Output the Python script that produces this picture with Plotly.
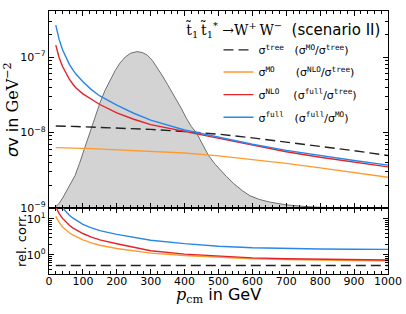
import plotly.graph_objects as go

# ---------------- data ----------------
p_cm = [20, 25, 30, 40, 50, 60, 70, 80, 100, 125, 150, 200, 250, 300, 400, 500, 600, 700, 800, 900, 1000]

sigma_tree = [1.22e-8, 1.22e-8, 1.22e-8, 1.215e-8, 1.21e-8, 1.21e-8, 1.205e-8, 1.20e-8, 1.19e-8, 1.18e-8, 1.165e-8,
              1.14e-8, 1.12e-8, 1.10e-8, 1.03e-8, 9.5e-9, 8.5e-9, 7.5e-9, 6.6e-9, 5.75e-9, 4.95e-9]
sigma_MO = [6.3e-9, 6.3e-9, 6.28e-9, 6.27e-9, 6.25e-9, 6.24e-9, 6.22e-9, 6.2e-9, 6.17e-9, 6.12e-9, 6.05e-9,
            5.95e-9, 5.85e-9, 5.72e-9, 5.35e-9, 4.9e-9, 4.4e-9, 3.9e-9, 3.4e-9, 2.95e-9, 2.55e-9]
sigma_NLO = [1.44e-7, 1.17e-7, 9.8e-8, 7.5e-8, 6.1e-8, 5.1e-8, 4.4e-8, 3.9e-8, 3.25e-8, 2.75e-8, 2.35e-8,
             1.82e-8, 1.5e-8, 1.27e-8, 1.03e-8, 8.4e-9, 6.7e-9, 5.55e-9, 4.7e-9, 4.05e-9, 3.5e-9]
sigma_full = [2.65e-7, 2.07e-7, 1.7e-7, 1.25e-7, 9.8e-8, 8.0e-8, 6.8e-8, 5.9e-8, 4.7e-8, 3.7e-8, 3.05e-8,
              2.3e-8, 1.8e-8, 1.46e-8, 1.08e-8, 8.6e-9, 7.0e-9, 5.8e-9, 4.95e-9, 4.25e-9, 3.7e-9]

ratio_MO_tree = [0.51, 0.51, 0.51, 0.51, 0.51, 0.51, 0.51, 0.51, 0.51, 0.51, 0.51,
                 0.51, 0.51, 0.51, 0.51, 0.51, 0.51, 0.51, 0.51, 0.51, 0.51]
ratio_NLO_tree = [11.6, 9.3, 7.9, 5.9, 4.8, 4.1, 3.55, 3.15, 2.6, 2.15, 1.85,
                  1.5, 1.27, 1.12, 0.96, 0.86, 0.78, 0.74, 0.71, 0.70, 0.69]
ratio_full_tree = [21.5, 16.8, 13.9, 10.2, 8.1, 6.6, 5.6, 4.9, 3.9, 3.1, 2.6,
                   2.03, 1.6, 1.3, 1.05, 0.92, 0.83, 0.78, 0.75, 0.73, 0.72]
ratio_full_MO = [42, 33, 27, 20, 15.5, 12.5, 10.5, 9.0, 7.0, 5.6, 4.7,
                 3.7, 3.0, 2.55, 2.05, 1.73, 1.58, 1.5, 1.46, 1.43, 1.42]

p_dist = [15, 20, 30, 42, 55, 65, 77, 90, 104, 115, 126, 138, 150, 165, 180, 195, 209, 225, 240, 259,
          275, 290, 305, 320, 335, 350, 365, 377, 390, 405, 420, 436, 452, 470, 490, 510, 524, 545,
          570, 593, 620, 650, 700, 750, 800, 900, 1000]
dist = [1.0e-9, 1.04e-9, 1.15e-9, 1.4e-9, 1.8e-9, 2.15e-9, 2.7e-9, 3.9e-9, 6.0e-9, 8.6e-9, 1.2e-8, 1.7e-8,
        2.45e-8, 3.6e-8, 5.0e-8, 6.6e-8, 8.3e-8, 1.0e-7, 1.12e-7, 1.18e-7,
        1.15e-7, 1.06e-7, 9.0e-8, 7.2e-8, 5.6e-8, 4.3e-8, 3.3e-8, 2.69e-8, 2.1e-8, 1.55e-8, 1.2e-8,
        9.7e-9, 7.0e-9, 5.0e-9, 3.8e-9, 3.0e-9, 2.6e-9, 2.1e-9,
        1.7e-9, 1.45e-9, 1.3e-9, 1.2e-9, 1.1e-9, 1.05e-9, 1.02e-9, 1.005e-9, 1.0e-9]

x_ticks = [0, 100, 200, 300, 400, 500, 600, 700, 800, 900, 1000]
y_top_ticks = [1e-9, 1e-8, 1e-7]
y_top_labels = ["10<sup>−9</sup>", "10<sup>−8</sup>", "10<sup>−7</sup>"]
y_bot_ticks = [1, 10]
y_bot_labels = ["10<sup>0</sup>", "10<sup>1</sup>"]

ORANGE = "#ff9a2e"
RED = "#e3232b"
BLUE = "#2a86e8"
BLACK = "#222222"

MONO = "DejaVu Sans Mono"


def tt(s):
    return f'<sup><span style="font-family:{MONO}">{s}</span></sup>'


nb = "\u00a0"
names = [
    f"σ{tt('tree')}{nb*3}(σ{tt('MO')}/σ{tt('tree')})",
    f"σ{tt('MO')}{nb*6}(σ{tt('NLO')}/σ{tt('tree')})",
    f"σ{tt('NLO')}{nb*4}(σ{tt('full')}/σ{tt('tree')})",
    f"σ{tt('full')}{nb*3}(σ{tt('full')}/σ{tt('MO')})",
]
legend_ids = ["legend", "legend2", "legend3", "legend4"]
legend_y = [0.852, 0.768, 0.682, 0.596]

fig = go.Figure()

fig.add_trace(go.Scatter(x=p_dist, y=dist, mode="lines", fill="tozeroy", fillcolor="#d3d3d3",
                         line=dict(color="#6e6e6e", width=1), showlegend=False, xaxis="x", yaxis="y"))

top_series = [(sigma_tree, BLACK, "10px,5px"), (sigma_MO, ORANGE, "solid"),
              (sigma_NLO, RED, "solid"), (sigma_full, BLUE, "solid")]
for (ys, col, dash), nm, lg in zip(top_series, names, legend_ids):
    fig.add_trace(go.Scatter(x=p_cm, y=ys, mode="lines", name=nm, legend=lg, showlegend=True,
                             line=dict(color=col, width=1.4, dash=dash), xaxis="x", yaxis="y"))

bot_series = [(ratio_MO_tree, BLACK, "10px,5px"), (ratio_NLO_tree, ORANGE, "solid"),
              (ratio_full_tree, RED, "solid"), (ratio_full_MO, BLUE, "solid")]
for ys, col, dash in bot_series:
    fig.add_trace(go.Scatter(x=p_cm, y=ys, mode="lines", showlegend=False,
                             line=dict(color=col, width=1.4, dash=dash), xaxis="x2", yaxis="y2"))

axis_common = dict(showline=True, linecolor="black", linewidth=1.2, mirror="allticks",
                   ticks="inside", ticklen=5, tickwidth=1, tickcolor="black",
                   showgrid=False, zeroline=False, automargin=False,
                   tickfont=dict(family="DejaVu Sans", size=11, color="black"))

minor_top = [m * d for d in (1e-9, 1e-8, 1e-7) for m in (2, 3, 4, 5, 6, 7, 8, 9)]
minor_bot = [m * d for d in (0.1, 1, 10) for m in (2, 3, 4, 5, 6, 7, 8, 9)]

legend_common = dict(x=0.5, xanchor="left", yanchor="middle", bgcolor="rgba(0,0,0,0)",
                     font=dict(family="DejaVu Sans", size=11, color="black"), itemwidth=30)

fig.update_layout(
    width=406, height=314,
    margin=dict(l=49, r=18, t=11, b=40),
    paper_bgcolor="white", plot_bgcolor="white",
    xaxis=dict(domain=[0, 1], anchor="y", range=[0, 1000], tickmode="array", tickvals=x_ticks,
               showticklabels=False, minor=dict(dtick=20, ticklen=3, ticks="inside", tickcolor="black"),
               **axis_common),
    yaxis=dict(domain=[0.251, 1], anchor="x", type="log", range=[-9, -6.39], tickmode="array",
               tickvals=y_top_ticks, ticktext=y_top_labels,
               minor=dict(tickmode="array", tickvals=minor_top, ticklen=3, ticks="inside", tickcolor="black"),
               **axis_common),
    xaxis2=dict(domain=[0, 1], anchor="y2", range=[0, 1000], tickmode="array", tickvals=x_ticks,
                minor=dict(dtick=20, ticklen=3, ticks="inside", tickcolor="black"),
                ticklabelstandoff=-3,
                **axis_common),
    yaxis2=dict(domain=[0, 0.251], anchor="x2", type="log", range=[-0.528, 1.297], tickmode="array",
                tickvals=y_bot_ticks, ticktext=y_bot_labels,
                minor=dict(tickmode="array", tickvals=minor_bot, ticklen=3, ticks="inside", tickcolor="black"),
                **axis_common),
    legend=dict(y=legend_y[0], **legend_common),
    legend2=dict(y=legend_y[1], **legend_common),
    legend3=dict(y=legend_y[2], **legend_common),
    legend4=dict(y=legend_y[3], **legend_common),
    font=dict(family="DejaVu Sans", color="black"),
)

fig.add_annotation(xref="paper", yref="paper", x=0.982, y=0.928, xanchor="right", yanchor="middle",
                   showarrow=False,
                   text='<span style="font-family:DejaVu Serif;font-size:14px">t̃<sub>1</sub>\u2009t̃<sub>1</sub><sup>*</sup>'
                        ' →W<sup>+</sup>\u2009W<sup>−</sup></span>\u00a0\u00a0(scenario II)',
                   font=dict(family="DejaVu Sans", size=15, color="black"))

fig.add_annotation(xref="paper", yref="paper", x=-0.109, y=0.624, xanchor="center", yanchor="middle",
                   showarrow=False, textangle=-90,
                   text='<i>σ</i>v in <span style="font-family:DejaVu Serif">GeV<sup>−2</sup></span>',
                   font=dict(family="DejaVu Sans", size=16, color="black"))

fig.add_annotation(xref="paper", yref="paper", x=-0.0826, y=0.129, xanchor="center", yanchor="middle",
                   showarrow=False, textangle=-90, text="rel. corr.",
                   font=dict(family="DejaVu Sans", size=13, color="black"))

fig.add_annotation(xref="paper", yref="paper", x=0.5, y=-0.08, xanchor="center", yanchor="middle",
                   showarrow=False,
                   text='<span style="font-family:DejaVu Serif"><i>p</i><sub>cm</sub></span> in GeV',
                   font=dict(family="DejaVu Sans", size=16, color="black"))

fig.write_html("out.html", config={"displayModeBar": False},
               post_script="document.body.style.margin='0';document.body.style.padding='0';")
